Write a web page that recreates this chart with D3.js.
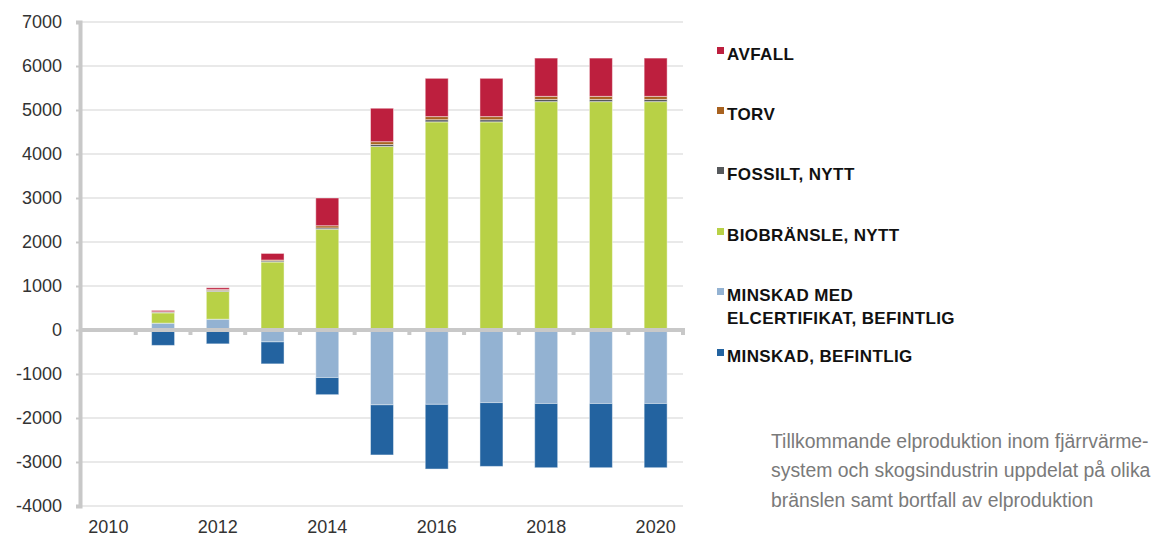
<!DOCTYPE html>
<html>
<head>
<meta charset="utf-8">
<script src="https://cdn.jsdelivr.net/npm/d3@7"></script>
<style>
  body { margin: 0; background: #fff; }
  svg { display: block; }
</style>
</head>
<body>
<div id="chart"></div>
<script>
// data (GWh)
var years = [2010, 2011, 2012, 2013, 2014, 2015, 2016, 2017, 2018, 2019, 2020];
var avfall = [0, 30, 40, 150, 630, 760, 870, 870, 870, 870, 870];
var torv = [0, 10, 20, 20, 50, 65, 70, 70, 70, 70, 70];
var fossilt = [0, 15, 25, 25, 30, 45, 50, 50, 50, 50, 50];
var biobransle = [0, 235, 630, 1545, 2290, 4170, 4730, 4730, 5190, 5190, 5190];
var minskadElcert = [0, 155, 245, -270, -1080, -1700, -1690, -1650, -1670, -1670, -1670];
var minskad = [0, -350, -315, -500, -390, -1140, -1470, -1450, -1460, -1460, -1460];

var yTicks = [-4000, -3000, -2000, -1000, 0, 1000, 2000, 3000, 4000, 5000, 6000, 7000];
var xLabels = [2010, 2012, 2014, 2016, 2018, 2020];

var seriesNames = ['elcert', 'minskad', 'bio', 'fossilt', 'torv', 'avfall'];
var colors = {
    elcert: '#93b2d2',
    minskad: '#2363a0',
    bio: '#b8d146',
    fossilt: '#56595c',
    torv: '#a8621f',
    avfall: '#bd1f3e'
};

var legendItems = [
    { key: 'avfall', lines: ['AVFALL'], y: 60 },
    { key: 'torv', lines: ['TORV'], y: 120 },
    { key: 'fossilt', lines: ['FOSSILT, NYTT'], y: 180 },
    { key: 'bio', lines: ['BIOBRÄNSLE, NYTT'], y: 241 },
    { key: 'elcert', lines: ['MINSKAD MED', 'ELCERTIFIKAT, BEFINTLIG'], y: 301 },
    { key: 'minskad', lines: ['MINSKAD, BEFINTLIG'], y: 362 }
];

var caption = [
    'Tillkommande elproduktion inom fjärrvärme-',
    'system och skogsindustrin uppdelat på olika',
    'bränslen samt bortfall av elproduktion'
];

var rows = years.map(function(yr, i) {
    return {
        year: yr,
        elcert: minskadElcert[i],
        minskad: minskad[i],
        bio: biobransle[i],
        fossilt: fossilt[i],
        torv: torv[i],
        avfall: avfall[i]
    };
});

var width = 1164, height = 543;
var svg = d3.select('#chart').append('svg')
    .attr('width', width)
    .attr('height', height);

var x = d3.scaleBand()
    .domain(years)
    .range([81, 683])
    .padding(0);

var y = d3.scaleLinear()
    .domain([-4000, 7000])
    .range([506, 22]);

var barWidth = x.bandwidth() * 0.42;

// grid
svg.append('g')
    .selectAll('line')
    .data(yTicks.filter(function(d) { return d !== 0; }))
    .join('line')
    .attr('x1', 81)
    .attr('x2', 683)
    .attr('y1', function(d) { return y(d); })
    .attr('y2', function(d) { return y(d); })
    .attr('stroke', '#e2e2e2')
    .attr('stroke-width', 1.5);

// stacked bars
var stack = d3.stack()
    .keys(seriesNames)
    .offset(d3.stackOffsetDiverging);
var stacked = stack(rows);

svg.append('g')
    .selectAll('g')
    .data(stacked)
    .join('g')
    .attr('fill', function(s) { return colors[s.key]; })
    .selectAll('rect')
    .data(function(s) { return s.filter(function(d) { return d[1] !== d[0]; }); })
    .join('rect')
    .attr('x', function(d) { return x(d.data.year) + (x.bandwidth() - barWidth) / 2; })
    .attr('width', barWidth)
    .attr('y', function(d) { return y(Math.max(d[0], d[1])); })
    .attr('height', function(d) { return Math.abs(y(d[0]) - y(d[1])); })
    .attr('stroke', 'rgba(255,255,255,0.45)')
    .attr('stroke-width', 1);

// y axis (plain hyphen for negatives, like the original)
var yAxis = svg.append('g')
    .attr('transform', 'translate(80,0)')
    .call(d3.axisLeft(y).tickValues(yTicks).tickSize(4).tickPadding(14).tickFormat(function(d) { return String(d); }));
yAxis.select('.domain')
    .attr('stroke', '#c8c8c8')
    .attr('stroke-width', 4);
yAxis.selectAll('.tick line')
    .attr('stroke', '#c8c8c8')
    .attr('stroke-width', 2);
yAxis.selectAll('text')
    .attr('fill', '#333')
    .style('font-family', '"Liberation Sans", Arial, sans-serif')
    .style('font-size', '18px');

// zero line with small ticks between categories
var zero = svg.append('g');
zero.append('line')
    .attr('x1', 80)
    .attr('x2', 685)
    .attr('y1', y(0))
    .attr('y2', y(0))
    .attr('stroke', '#c8c8c8')
    .attr('stroke-width', 4);
zero.selectAll('rect')
    .data(years.slice(1).concat(['end']))
    .join('rect')
    .attr('x', function(d) { return (d === 'end' ? 683 : x(d)) - 2; })
    .attr('y', y(0) + 2)
    .attr('width', 4)
    .attr('height', 3)
    .attr('fill', '#c8c8c8');

// x labels
var xAxis = svg.append('g')
    .attr('transform', 'translate(0,520)')
    .call(d3.axisBottom(x).tickValues(xLabels).tickSize(0).tickPadding(0));
xAxis.select('.domain').remove();
xAxis.selectAll('text')
    .attr('fill', '#333')
    .style('font-family', '"Liberation Sans", Arial, sans-serif')
    .style('font-size', '18px');

// legend
var legend = svg.append('g');
legendItems.forEach(function(item) {
    legend.append('rect')
        .attr('x', 717)
        .attr('y', item.y - 13)
        .attr('width', 7)
        .attr('height', 7)
        .attr('fill', colors[item.key]);
    var t = legend.append('text')
        .attr('x', 727)
        .attr('y', item.y)
        .attr('fill', '#111')
        .style('font-family', '"Liberation Sans", Arial, sans-serif')
        .style('font-size', '17px')
        .style('font-weight', 'bold')
        .style('letter-spacing', '0.4px');
    item.lines.forEach(function(line, i) {
        t.append('tspan')
            .attr('x', 727)
            .attr('dy', i === 0 ? 0 : 22.6)
            .text(line);
    });
});

// caption
svg.append('g')
    .selectAll('text')
    .data(caption)
    .join('text')
    .attr('x', 771)
    .attr('y', function(d, i) { return 448 + i * 29.4; })
    .attr('fill', '#7a7a7a')
    .style('font-family', '"Liberation Sans", Arial, sans-serif')
    .style('font-size', '19.4px')
    .text(function(d) { return d; });
</script>
</body>
</html>
